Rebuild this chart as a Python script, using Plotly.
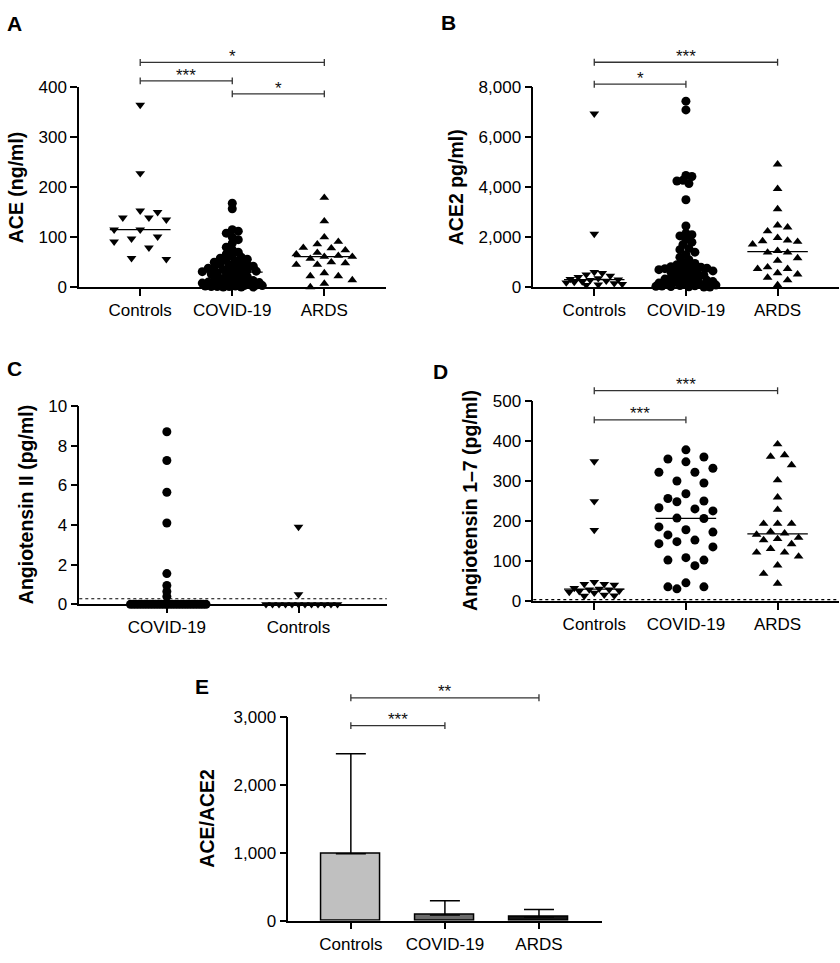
import numpy as np
import plotly.graph_objects as go

W, H = 840, 963

# ---------------- Data ----------------
cats3 = ["Controls", "COVID-19", "ARDS"]
catsC = ["COVID-19", "Controls"]

# Panel A: ACE (ng/ml)
ace_controls = [365, 228, 150, 153, 135, 139, 139, 115, 115, 97, 101, 91, 79, 56, 58]
ace_covid = [168, 157, 115, 112, 108, 100, 95, 88, 80, 75, 70, 66, 62, 60, 58, 56, 54,
             52, 50, 48, 46, 45, 44, 42, 40, 39, 38, 36, 35, 34, 33, 32, 31,
             29, 28, 26, 25, 23, 21, 19, 17, 15, 14, 13, 12, 11, 10, 9, 8, 8, 7,
             6, 5, 5, 4, 4, 3, 3, 2, 2, 1, 1, 1, 0, 0, 0]
ace_ards = [179, 132, 100, 91, 86, 78, 74, 69, 79, 66, 63, 61, 61, 57, 50, 45, 48, 45,
            28, 22, 22, 14, 7, 0]

# Panel B: ACE2 (pg/ml)
ace2_controls = [6950, 2130, 600, 560, 500, 450, 400, 350, 320, 300, 280, 250, 220,
                 200, 180, 150, 120, 100, 80]
ace2_covid = [7450, 7100, 4470, 4430, 4280, 4250, 4150, 3500, 2450, 2150, 2100, 2050,
              1900, 1800, 1700, 1550, 1500, 1400, 1300, 1200, 1100, 1000, 950, 900,
              850, 820, 800, 780, 760, 740, 720, 700,
              680, 650, 620, 600, 560, 520, 480, 450, 420, 380, 350, 320, 300, 270,
              250, 220, 200, 180, 160, 140, 120, 100, 90, 80, 60, 50, 40, 30, 20, 10, 5, 0]
ace2_ards = [4922, 3940, 3128, 2395, 2474, 2238, 1872, 1846, 1976, 1820, 1715, 1453,
             1388, 1388, 1165, 1060, 733, 733, 800, 563, 510, 380, 275, 80]

# Panel C: Angiotensin II (pg/ml)
ang2_covid = [8.7, 7.25, 5.65, 4.1, 1.55, 0.95, 0.65, 0.4,
              0, 0, 0, 0, 0, 0, 0, 0, 0, 0, 0, 0, 0, 0,
              0, 0, 0, 0, 0, 0, 0, 0, 0, 0, 0, 0, 0, 0]
ang2_controls = [3.9, 0.5, 0, 0, 0, 0, 0, 0, 0, 0, 0, 0, 0, 0]
ang2_limit = 0.28

# Panel D: Angiotensin 1-7 (pg/ml)
ang17_controls = [349, 249, 177, 47, 42, 42, 40, 32, 30, 28, 28, 25, 24, 22, 20, 15, 13, 12]
ang17_covid = [360, 332, 250, 206, 152, 102, 30, 348, 322, 300, 268, 225, 178, 135, 88, 45,
               378, 355, 322, 295, 248, 230, 185, 165, 143, 102, 35, 256, 233, 207, 172,
               148, 108, 35]
ang17_ards = [392, 365, 361, 340, 302, 259, 228, 193, 193, 193, 173, 166, 169, 155, 158,
              152, 130, 121, 121, 142, 111, 89, 68, 43]
ang17_limit = 3

# Panel E: ACE/ACE2 ratio, mean and SD
ratio_mean = [986, 82, 53]
ratio_sd = [1471, 211, 110]

# ---------------- Layout geometry (pixels) ----------------
panels = {
    "A": dict(xpx=(79, 386), ypx=(80, 283.7), yr=(0, 400), cats=cats3,
              yt=[0, 100, 200, 300, 400], fmt="d", title="ACE (ng/ml)", tx=16),
    "B": dict(xpx=(533.3, 839), ypx=(80, 283.7), yr=(0, 8000), cats=cats3,
              yt=[0, 2000, 4000, 6000, 8000], fmt=",d", title="ACE2 pg/ml)", tx=456),
    "C": dict(xpx=(79.3, 386.7), ypx=(405, 607.3), yr=(0, 10), cats=catsC,
              yt=[0, 2, 4, 6, 8, 10], fmt="d", title="Angiotensin II (pg/ml)", tx=26),
    "D": dict(xpx=(533.3, 839), ypx=(400, 603.7), yr=(0, 500), cats=cats3,
              yt=[0, 100, 200, 300, 400, 500], fmt="d", title="Angiotensin 1–7 (pg/ml)", tx=470),
    "E": dict(xpx=(288.3, 602), ypx=(722, 930), yr=(0, 3000), cats=cats3,
              yt=[0, 1000, 2000, 3000], fmt=",d", title="ACE/ACE2", tx=207),
}
for i, (k, p) in enumerate(panels.items()):
    n = len(p["cats"])
    p["xr"] = (-0.665, n - 1 + 0.67)
    p["xsc"] = (p["xpx"][1] - p["xpx"][0]) / (p["xr"][1] - p["xr"][0])
    p["ysc"] = (p["ypx"][1] - p["ypx"][0]) / (p["yr"][1] - p["yr"][0])
    p["ax"] = "" if i == 0 else str(i + 1)

def paper_x(p, c):
    return (p["xpx"][0] + (c - p["xr"][0]) * p["xsc"]) / W

def paper_y_px(py):
    return 1 - py / H

def px_y(p, v):
    return p["ypx"][1] - (v - p["yr"][0]) * p["ysc"]


def beeswarm(vals, ysc, step, dmin, maxhalf):
    vals = np.asarray(vals, dtype=float)
    order = np.argsort(-vals, kind="stable")
    placed = []
    offs = np.zeros(len(vals))
    flip = 1
    kmax = int(maxhalf // step)
    for idx in order:
        y = vals[idx] * ysc
        cands = [0.0]
        for k in range(1, kmax + 1):
            cands += [flip * k * step, -flip * k * step]
        chosen, bestc, bestd = None, 0.0, -1.0
        for c in cands:
            md = min([np.hypot(c - a, y - b) for a, b in placed], default=1e9)
            if md >= dmin:
                chosen = c
                break
            if md > bestd:
                bestd, bestc = md, c
        if chosen is None:
            chosen = bestc
        if chosen != 0:
            flip = -flip
        offs[idx] = chosen
        placed.append((chosen, y))
    return offs


fig = go.Figure()
FONT = "Liberation Sans, Arial, Helvetica, sans-serif"

SYM = {"Controls": "triangle-down", "COVID-19": "circle", "ARDS": "triangle-up"}
MSIZE = {"Controls": 8.5, "COVID-19": 9, "ARDS": 8.5}

groups = [
    ("A", "Controls", ace_controls, (8.7, 15, 27), True),
    ("A", "COVID-19", ace_covid, (3.0, 5.5, 31), True),
    ("A", "ARDS", ace_ards, (7.0, 9.5, 28), True),
    ("B", "Controls", ace2_controls, (4.0, 6.5, 30), True),
    ("B", "COVID-19", ace2_covid, (3.0, 5.5, 31), True),
    ("B", "ARDS", ace2_ards, (5.0, 10, 27), True),
    ("C", "COVID-19", ang2_covid, (2.8, 2.8, 40), False),
    ("C", "Controls", ang2_controls, (6.5, 6.5, 39), False),
    ("D", "Controls", ang17_controls, (5.0, 8.5, 27), True),
    ("D", "COVID-19", ang17_covid, (9.0, 14, 27), True),
    ("D", "ARDS", ang17_ards, (7.0, 12, 27), True),
]

for pk, g, vals, (step, dmin, mh), med in groups:
    p = panels[pk]
    ci = p["cats"].index(g)
    offs = beeswarm(vals, p["ysc"], step, dmin, mh) / p["xsc"]
    fig.add_trace(go.Scatter(
        x=ci + offs, y=vals, mode="markers", cliponaxis=False,
        marker=dict(symbol=SYM[g], size=MSIZE[g], color="black", line=dict(width=0)),
        xaxis="x" + p["ax"], yaxis="y" + p["ax"], hoverinfo="y"))
    if med:
        m = float(np.median(vals))
        fig.add_trace(go.Scatter(
            x=[ci - 0.33, ci + 0.33], y=[m, m], mode="lines", cliponaxis=False,
            line=dict(color="black", width=1.3),
            xaxis="x" + p["ax"], yaxis="y" + p["ax"], hoverinfo="skip"))

# Bars, panel E
pE = panels["E"]
fig.add_trace(go.Bar(
    x=[0, 1, 2], y=ratio_mean, width=0.63,
    marker=dict(color=["#c0c0c0", "#6b6b6b", "#141414"], line=dict(color="black", width=1.5)),
    error_y=dict(type="data", symmetric=False, array=ratio_sd, arrayminus=[0, 0, 0],
                 color="black", thickness=1.5, width=15),
    xaxis="x" + pE["ax"], yaxis="y" + pE["ax"]))

# Dotted detection limit lines
shapes = []
for pk, lim in (("C", ang2_limit), ("D", ang17_limit)):
    p = panels[pk]
    shapes.append(dict(type="line", xref="paper", yref="paper",
                       x0=p["xpx"][0] / W, x1=p["xpx"][1] / W,
                       y0=paper_y_px(px_y(p, lim)), y1=paper_y_px(px_y(p, lim)),
                       line=dict(color="black", width=1.2, dash="dot")))

# Significance brackets
sig = [
    ("A", 0, 2, 450, "*"),
    ("A", 0, 1, 413, "***"),
    ("A", 1, 2, 387, "*"),
    ("B", 0, 2, 9008, "***"),
    ("B", 0, 1, 8129, "*"),
    ("D", 0, 2, 526, "***"),
    ("D", 0, 1, 453, "***"),
    ("E", 0, 2, 3279, "**"),
    ("E", 0, 1, 2870, "***"),
]
annotations = []
for pk, i, j, lev, stars in sig:
    p = panels[pk]
    ypx = px_y(p, lev)
    xa, xb = paper_x(p, i), paper_x(p, j)
    lc = dict(color="#333333", width=1.3)
    shapes.append(dict(type="line", xref="paper", yref="paper", x0=xa, x1=xb,
                       y0=paper_y_px(ypx), y1=paper_y_px(ypx), line=lc))
    for xx in (xa, xb):
        shapes.append(dict(type="line", xref="paper", yref="paper", x0=xx, x1=xx,
                           y0=paper_y_px(ypx - 3.5), y1=paper_y_px(ypx + 3.5), line=lc))
    annotations.append(dict(xref="paper", yref="paper", x=(xa + xb) / 2,
                            y=paper_y_px(ypx - 6), text=stars, showarrow=False,
                            xanchor="center", yanchor="middle",
                            font=dict(family=FONT, size=17, color="#111111")))

# Panel letters
letters = {"A": (14, 15), "B": (448, 14), "C": (14, 367), "D": (440, 370), "E": (202, 691)}
for t, (lx, ly) in letters.items():
    annotations.append(dict(xref="paper", yref="paper", x=lx / W, y=paper_y_px(ly),
                            text="<b>%s</b>" % t, showarrow=False, xanchor="center",
                            yanchor="middle", font=dict(family=FONT, size=21, color="black")))

# Axis titles
for k, p in panels.items():
    yc = (p["ypx"][0] + p["ypx"][1]) / 2
    annotations.append(dict(xref="paper", yref="paper", x=p["tx"] / W, y=paper_y_px(yc),
                            text="<b>%s</b>" % p["title"], textangle=-90, showarrow=False,
                            xanchor="center", yanchor="middle",
                            font=dict(family=FONT, size=19.5, color="black")))

layout = dict(width=W, height=H, margin=dict(l=0, r=0, t=0, b=0),
              paper_bgcolor="white", plot_bgcolor="white", showlegend=False,
              shapes=shapes, annotations=annotations, bargap=0)
axstyle = dict(showline=True, linecolor="black", linewidth=1.5, ticks="outside",
               ticklen=7, tickwidth=1.5, tickcolor="black", showgrid=False, zeroline=False,
               tickfont=dict(family=FONT, size=17, color="black"), fixedrange=True)
for k, p in panels.items():
    ax = p["ax"]
    layout["xaxis" + ax] = dict(axstyle, domain=[p["xpx"][0] / W, p["xpx"][1] / W],
                                range=list(p["xr"]), tickvals=list(range(len(p["cats"]))),
                                ticktext=p["cats"], anchor="y" + ax)
    layout["yaxis" + ax] = dict(axstyle, domain=[paper_y_px(p["ypx"][1]), paper_y_px(p["ypx"][0])],
                                range=list(p["yr"]), tickvals=p["yt"], tickformat=p["fmt"],
                                anchor="x" + ax)
fig.update_layout(**layout)

POST = """
var css='margin:0;padding:0;overflow:hidden;width:840px;height:963px;';
document.documentElement.style.cssText=css;
document.body.style.cssText=css;
var gd=document.querySelector('.plotly-graph-div');
gd.style.position='fixed'; gd.style.top='0px'; gd.style.left='0px';
"""
fig.write_html("out.html", config={"displayModeBar": False}, post_script=POST)
